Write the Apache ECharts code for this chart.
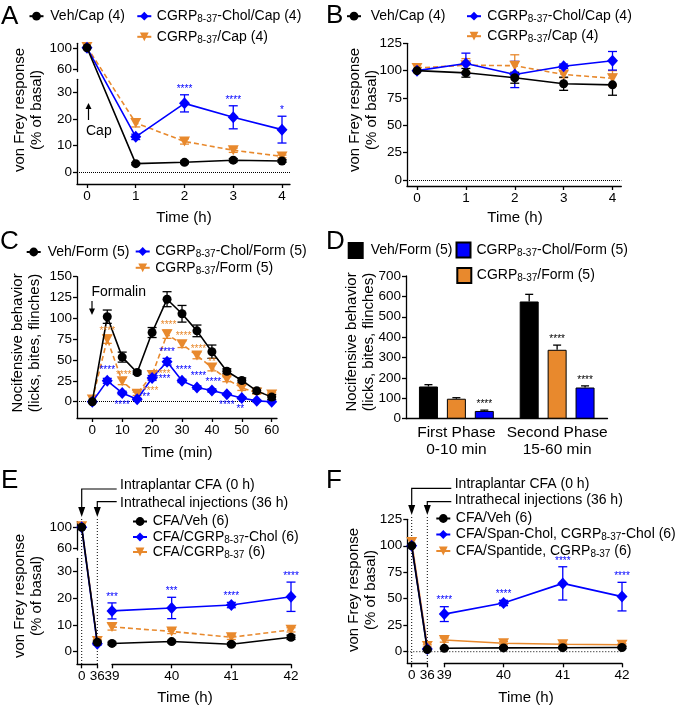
<!DOCTYPE html>
<html><head><meta charset="utf-8">
<script src="https://cdn.jsdelivr.net/npm/echarts@6/dist/echarts.min.js"></script>
<style>html,body{margin:0;padding:0;background:#fff}#c{width:677px;height:708px}</style>
</head><body><div id="c"></div>
<script>
// ================= DATA =================
// Panel A
const A_time = [0, 1, 2, 3, 4];
const A_veh = [100, 3.3, 3.8, 4.6, 4.3];
const A_vehErr = [0, 0.4, 0.5, 0.6, 0.5];
const A_chol = [100, 13.3, 25.8, 20.6, 16.0];
const A_cholErr = [0, 1.0, 3.2, 4.3, 5.0];
const A_cgrp = [101.5, 18.5, 11.6, 8.3, 6.0];
const A_cgrpErr = [0, 1.5, 1.0, 0.8, 0.5];
const A_cholStars = ['', '', '****', '****', '*'];
const A_xTicks = [0, 1, 2, 3, 4];
const A_yTicksHi = [60, 100];
const A_yTicksLo = [0, 10, 20, 30];
// Panel B
const B_time = [0, 1, 2, 3, 4];
const B_veh = [100, 98, 93.5, 88, 87];
const B_vehErr = [0, 4, 5, 6, 9.5];
const B_chol = [100, 106.5, 96.5, 104, 109];
const B_cholErr = [0, 9.5, 12, 2, 8.5];
const B_cgrp = [102.5, 105, 104.5, 96.5, 93];
const B_cgrpErr = [0, 6, 10, 3, 7];
const B_xTicks = [0, 1, 2, 3, 4];
const B_yTicks = [0, 25, 50, 75, 100, 125];
// Panel C
const C_time = [0, 5, 10, 15, 20, 25, 30, 35, 40, 45, 50, 55, 60];
const C_veh = [0, 102, 53.5, 35, 83, 123, 105.5, 85, 60, 36.5, 25.5, 13, 5.5];
const C_vehErr = [0, 8, 6, 2, 6, 9, 10, 7, 8, 3, 3, 3, 3];
const C_chol = [0, 25, 10.5, 3, 28.5, 48, 25, 17, 13.5, 9, 4.5, 1, 0];
const C_cholErr = [0, 3, 2, 1, 3, 4, 2, 2, 2, 1, 1, 1, 0];
const C_cgrp = [2.5, 75, 24.5, 9.5, 32, 81, 69, 55.5, 41, 27, 16.5, 11, 8.5];
const C_cgrpErr = [0, 5, 4, 2, 5, 5, 4, 4, 4, 3, 3, 2, 2];
const C_cholStarX = [5, 10, 18, 23.5, 25, 30.5, 35.5, 40.5, 45, 49.5];
const C_cholStarY = [38, -4.5, 5.5, 27, 59, 38, 31, 23, -4.5, -9];
const C_cholStarTxt = ['****', '****', '**', '****', '****', '****', '****', '****', '****', '**'];
const C_cgrpStarX = [5, 10.5, 19.5, 23.5, 25.5, 30.5, 35.5, 40];
const C_cgrpStarY = [84, 32, 12, 33, 92, 78, 63, 47];
const C_cgrpStarTxt = ['****', '****', '****', '****', '****', '****', '****', '**'];
const C_xTicks = [0, 10, 20, 30, 40, 50, 60];
const C_yTicks = [0, 25, 50, 75, 100, 125, 150];
// Panel D
const D_phases = ['First Phase\n0-10 min', 'Second Phase\n15-60 min'];
const D_veh = [158, 575];
const D_vehErr = [9, 35];
const D_cgrp = [98, 338];
const D_cgrpErr = [5, 23];
const D_chol = [38, 153];
const D_cholErr = [4, 8];
const D_cgrpStars = ['', '****'];
const D_cholStars = ['****', '****'];
const D_yTicks = [0, 100, 200, 300, 400, 500, 600, 700];
// Panel E
const E_time = [0, 36, 39, 40, 41, 42];
const E_veh = [100, 3.5, 3.1, 3.8, 2.8, 5.4];
const E_vehErr = [0, 0.5, 0.5, 0.5, 0.5, 0.8];
const E_chol = [100, 3.0, 15.3, 16.4, 17.5, 20.6];
const E_cholErr = [0, 0.5, 3, 4, 1, 5.5];
const E_cgrp = [102, 4.0, 9.3, 7.6, 5.4, 8.2];
const E_cgrpErr = [0, 0.5, 1.2, 0.8, 0.8, 0.8];
const E_cholStars = ['', '', '***', '***', '****', '****'];
const E_xTicksPre = [0, 36];
const E_xTicksPost = [39, 40, 41, 42];
const E_yTicksHi = [60, 100];
const E_yTicksLo = [0, 10, 20, 30];
// Panel F
const F_time = [0, 36, 39, 40, 41, 42];
const F_veh = [100, 2.0, 3.2, 3.6, 3.8, 4.0];
const F_vehErr = [0, 0.5, 0.8, 1, 1, 1];
const F_chol = [100, 2.5, 35.5, 46, 64.5, 52];
const F_cholErr = [0, 0.5, 7, 2.5, 15.7, 13.5];
const F_cgrp = [103.5, 5.5, 11, 8, 7, 6.5];
const F_cgrpErr = [0, 1, 2, 1.5, 1, 1];
const F_cholStars = ['', '', '****', '****', '****', '****'];
const F_xTicksPre = [0, 36];
const F_xTicksPost = [39, 40, 41, 42];
const F_yTicks = [0, 25, 50, 75, 100, 125];

const PRE = [0, 1], POST = [2, 3, 4, 5];

// ================= STYLE / LAYOUT =================
const FONT = '"Liberation Sans", Arial, Helvetica, sans-serif';
const BLACK = '#000000', BLUE = '#0000FF', ORANGE = '#E8892D';
const TICK_FS = 13.5;
const STAR_FONT = '10px ' + FONT;

const GEO = {
  Ahi:   {l: 77, t: 43.3, w: 213, h: 28.2, x: [-0.205, 4.164], y: [56.3, 108.3]},
  Alo:   {l: 77, t: 79.3, w: 213, h: 104.7, x: [-0.205, 4.164], y: [-4.29, 34.78]},
  B:     {l: 407, t: 43.3, w: 214.3, h: 142.7, x: [-0.205, 4.18], y: [-5.49, 125]},
  C:     {l: 77, t: 276.7, w: 200, h: 141.3, x: [-5.12, 61.77], y: [-19.56, 150]},
  D:     {l: 406, t: 276, w: 201.5, h: 142.7, y: [0, 700]},
  Ehi:   {l: 77, t: 521.7, w: 20.3, h: 28.3, x: [-10.85, 36], y: [56.76, 110.67]},
  EloL:  {l: 77, t: 558.3, w: 20.3, h: 106, x: [-10.85, 36], y: [-4.72, 35.02]},
  Emain: {l: 112, t: 558.3, w: 179, h: 106, x: [39, 42], y: [-4.72, 35.02]},
  FL:    {l: 407.3, t: 519.3, w: 20, h: 144, x: [-10.15, 36], y: [-10.95, 125]},
  Fmain: {l: 444.3, t: 519.3, w: 177.7, h: 144, x: [39, 42], y: [-10.95, 125]}
};
const KEYS = Object.keys(GEO);
const GI = k => KEYS.indexOf(k);

const ySeg = g => ({v0: g.y[0], p0: g.t + g.h, v1: g.y[1], p1: g.t});
const xSeg = g => ({v0: g.x[0], p0: g.l, v1: g.x[1], p1: g.l + g.w});
const toPix = (v, s) => s.p0 + (v - s.v0) * (s.p1 - s.p0) / (s.v1 - s.v0);
const fromPix = (p, s) => s.v0 + (p - s.p0) * (s.v1 - s.v0) / (s.p1 - s.p0);
const id = v => v;
// broken-axis transform (upper segment value -> lower segment coordinate system)
const tyA = v => v > 45 ? fromPix(toPix(v, ySeg(GEO.Ahi)), ySeg(GEO.Alo)) : v;
const tyE = v => v > 45 ? fromPix(toPix(v, ySeg(GEO.Ehi)), ySeg(GEO.EloL)) : v;

const LINE_C = {color: '#000', width: 1.3};
function valAxis(gi, range, ticks) {
  return {
    gridIndex: gi, type: 'value', min: range[0], max: range[1],
    axisLine: {show: true, onZero: false, lineStyle: LINE_C},
    splitLine: {show: false},
    axisTick: {show: true, length: 4, customValues: ticks, lineStyle: LINE_C},
    axisLabel: {show: true, customValues: ticks, color: '#000', fontSize: TICK_FS, fontFamily: FONT, margin: 5}
  };
}
function hidAxis(gi, range) {
  return {gridIndex: gi, type: 'value', min: range[0], max: range[1], show: false,
    axisLine: {onZero: false}, splitLine: {show: false}};
}

const STY = {
  black: {color: BLACK, symbol: 'circle', size: 9, z: 6},
  blue: {color: BLUE, symbol: 'diamond', size: [11, 12], z: 5},
  orange: {color: ORANGE, symbol: 'triangle', size: [11, 10], rot: 180, z: 4, dash: [5, 3]},
  orangeSolid: {color: ORANGE, symbol: 'triangle', size: [11, 10], rot: 180, z: 4}
};
const sub = (arr, idx) => idx.map(i => arr[i]);
const pts = (xs, ys, tx, ty) => xs.map((x, i) => [tx(x), ty(ys[i])]);

function lineS(name, gi, data, sty, extra) {
  return Object.assign({
    name, type: 'line', xAxisIndex: gi, yAxisIndex: gi, data, clip: false, animation: false,
    symbol: sty.symbol, symbolSize: sty.size, symbolRotate: sty.rot || 0, z: sty.z,
    showAllSymbol: true,
    itemStyle: {color: sty.color, opacity: 1},
    lineStyle: {color: sty.color, width: 1.6, type: sty.dash || 'solid'},
    emphasis: {disabled: true}
  }, extra || {});
}
function errS(gi, xs, ys, es, tx, ty, color, opt) {
  opt = opt || {};
  const data = xs.map((x, i) => [tx(x), ty(ys[i]), ty(ys[i] - (opt.up ? 0 : es[i])), ty(ys[i] + es[i])]);
  return {
    type: 'custom', xAxisIndex: gi, yAxisIndex: gi, data, z: opt.z || 3, silent: true,
    animation: false, clip: false, encode: {x: 0, y: 1},
    renderItem(params, api) {
      const i = params.dataIndex;
      const x = api.value(0);
      const pT = api.coord([x, api.value(3)]);
      const pB = api.coord([x, api.value(2)]);
      const cx = pT[0] + (opt.off || 0), cw = (opt.cap || 9) / 2;
      const ls = {stroke: color, lineWidth: 1.3};
      const ch = [];
      const k = (opt.idx ? opt.idx[i] : i);
      if (es[k] > 0) {
        ch.push({type: 'line', shape: {x1: cx, y1: pT[1], x2: cx, y2: pB[1]}, style: ls});
        ch.push({type: 'line', shape: {x1: cx - cw, y1: pT[1], x2: cx + cw, y2: pT[1]}, style: ls});
        if (!opt.up) ch.push({type: 'line', shape: {x1: cx - cw, y1: pB[1], x2: cx + cw, y2: pB[1]}, style: ls});
      }
      if (opt.stars && opt.stars[k]) {
        ch.push({type: 'text', z2: 10, style: {text: opt.stars[k], x: cx, y: pT[1] - 1,
          textAlign: 'center', textVerticalAlign: 'bottom', align: 'center', verticalAlign: 'bottom',
          fill: opt.starColor || color, font: STAR_FONT}});
      }
      return {type: 'group', children: ch};
    }
  };
}
function starS(gi, xs, ys, txt, color) {
  return {
    type: 'custom', xAxisIndex: gi, yAxisIndex: gi, data: xs.map((x, i) => [x, ys[i]]),
    silent: true, clip: false, z: 7, animation: false, encode: {x: 0, y: 1},
    renderItem(params, api) {
      const p = api.coord([api.value(0), api.value(1)]);
      return {type: 'text', style: {text: txt[params.dataIndex], x: p[0], y: p[1],
        textAlign: 'center', textVerticalAlign: 'middle', align: 'center', verticalAlign: 'middle',
        fill: color, font: STAR_FONT}};
    }
  };
}
const DOT = {type: 'dotted', color: '#000', width: 1};
function mark(data) {
  return {silent: true, symbol: ['none', 'none'], animation: false, label: {show: false},
    lineStyle: DOT, emphasis: {disabled: true}, data};
}

// ================= SERIES =================
const series = [];
// A
{
  const g = GI('Alo');
  series.push(lineS('A3', g, pts(A_time, A_cgrp, id, tyA), STY.orange));
  series.push(lineS('A2', g, pts(A_time, A_chol, id, tyA), STY.blue));
  series.push(lineS('A1', g, pts(A_time, A_veh, id, tyA), STY.black, {markLine: mark([{yAxis: 0}])}));
  series.push(errS(g, A_time, A_cgrp, A_cgrpErr, id, tyA, ORANGE));
  series.push(errS(g, A_time, A_chol, A_cholErr, id, tyA, BLUE, {stars: A_cholStars}));
  series.push(errS(g, A_time, A_veh, A_vehErr, id, tyA, BLACK));
}
// B
{
  const g = GI('B');
  series.push(lineS('B3', g, pts(B_time, B_cgrp, id, id), STY.orange));
  series.push(lineS('B2', g, pts(B_time, B_chol, id, id), STY.blue));
  series.push(lineS('B1', g, pts(B_time, B_veh, id, id), STY.black, {markLine: mark([{yAxis: 0}])}));
  series.push(errS(g, B_time, B_cgrp, B_cgrpErr, id, id, ORANGE));
  series.push(errS(g, B_time, B_chol, B_cholErr, id, id, BLUE));
  series.push(errS(g, B_time, B_veh, B_vehErr, id, id, BLACK));
}
// C
{
  const g = GI('C');
  series.push(lineS('C3', g, pts(C_time, C_cgrp, id, id), STY.orange));
  series.push(lineS('C2', g, pts(C_time, C_chol, id, id), STY.blue));
  series.push(lineS('C1', g, pts(C_time, C_veh, id, id), STY.black, {markLine: mark([{yAxis: 0}])}));
  series.push(errS(g, C_time, C_cgrp, C_cgrpErr, id, id, ORANGE));
  series.push(errS(g, C_time, C_chol, C_cholErr, id, id, BLUE));
  series.push(errS(g, C_time, C_veh, C_vehErr, id, id, BLACK));
  series.push(starS(g, C_cholStarX, C_cholStarY, C_cholStarTxt, BLUE));
  series.push(starS(g, C_cgrpStarX, C_cgrpStarY, C_cgrpStarTxt, ORANGE));
}
// D
{
  const g = GI('D');
  const bar = (name, vals, color) => ({name, type: 'bar', xAxisIndex: g, yAxisIndex: g, data: vals,
    barWidth: 19, barGap: '47%', animation: false, z: 2,
    itemStyle: {color, borderColor: '#000', borderWidth: 1}, emphasis: {disabled: true}});
  series.push(bar('D1', D_veh, BLACK));
  series.push(bar('D3', D_cgrp, ORANGE));
  series.push(bar('D2', D_chol, BLUE));
  const idx = D_phases.map((_, i) => i);
  const off = 19 * 1.47;
  series.push(errS(g, idx, D_veh, D_vehErr, id, id, BLACK, {up: true, off: -off, cap: 8}));
  series.push(errS(g, idx, D_cgrp, D_cgrpErr, id, id, BLACK, {up: true, off: 0, cap: 8, stars: D_cgrpStars}));
  series.push(errS(g, idx, D_chol, D_cholErr, id, id, BLACK, {up: true, off: off, cap: 8, stars: D_cholStars}));
}
// E : pre-injection points (0, 36 h) on the left x segment, post-injection on the main segment
{
  const gL = GI('EloL'), gM = GI('Emain');
  const grp = (nm, vals, errs, sty, starArr) => {
    series.push(lineS(nm, gM, pts(sub(E_time, POST), sub(vals, POST), id, tyE), sty));
    series.push(lineS(nm + 'pre', gL, pts(sub(E_time, PRE), sub(vals, PRE), id, tyE), sty));
    series.push(errS(gM, sub(E_time, POST), sub(vals, POST), sub(errs, POST), id, tyE, sty.color, {stars: starArr ? sub(starArr, POST) : null}));
    series.push(errS(gL, sub(E_time, PRE), sub(vals, PRE), sub(errs, PRE), id, tyE, sty.color));
  };
  grp('E3', E_cgrp, E_cgrpErr, STY.orange);
  grp('E2', E_chol, E_cholErr, STY.blue, E_cholStars);
  grp('E1', E_veh, E_vehErr, STY.black);
}
// F
{
  const gL = GI('FL'), gM = GI('Fmain');
  const grp = (nm, vals, errs, sty, starArr) => {
    series.push(lineS(nm, gM, pts(sub(F_time, POST), sub(vals, POST), id, id), sty));
    series.push(lineS(nm + 'pre', gL, pts(sub(F_time, PRE), sub(vals, PRE), id, id), sty));
    series.push(errS(gM, sub(F_time, POST), sub(vals, POST), sub(errs, POST), id, id, sty.color, {stars: starArr ? sub(starArr, POST) : null}));
    series.push(errS(gL, sub(F_time, PRE), sub(vals, PRE), sub(errs, PRE), id, id, sty.color));
  };
  grp('F3', F_cgrp, F_cgrpErr, STY.orangeSolid);
  grp('F2', F_chol, F_cholErr, STY.blue, F_cholStars);
  grp('F1', F_veh, F_vehErr, STY.black);
}

// ================= AXES =================
const xAxis = [
  hidAxis(GI('Ahi'), GEO.Ahi.x),
  valAxis(GI('Alo'), GEO.Alo.x, A_xTicks),
  valAxis(GI('B'), GEO.B.x, B_xTicks),
  valAxis(GI('C'), GEO.C.x, C_xTicks),
  {gridIndex: GI('D'), type: 'category', data: D_phases,
    axisLine: {show: true, lineStyle: LINE_C}, axisTick: {show: false},
    axisLabel: {color: '#000', fontSize: 15.5, fontFamily: FONT, lineHeight: 17, margin: 6, interval: 0, hideOverlap: false}},
  hidAxis(GI('Ehi'), GEO.Ehi.x),
  valAxis(GI('EloL'), GEO.EloL.x, E_xTicksPre),
  valAxis(GI('Emain'), GEO.Emain.x, E_xTicksPost),
  valAxis(GI('FL'), GEO.FL.x, F_xTicksPre),
  valAxis(GI('Fmain'), GEO.Fmain.x, F_xTicksPost)
];
const yAxis = [
  valAxis(GI('Ahi'), GEO.Ahi.y, A_yTicksHi),
  valAxis(GI('Alo'), GEO.Alo.y, A_yTicksLo),
  valAxis(GI('B'), GEO.B.y, B_yTicks),
  valAxis(GI('C'), GEO.C.y, C_yTicks),
  valAxis(GI('D'), GEO.D.y, D_yTicks),
  valAxis(GI('Ehi'), GEO.Ehi.y, E_yTicksHi),
  valAxis(GI('EloL'), GEO.EloL.y, E_yTicksLo),
  hidAxis(GI('Emain'), GEO.Emain.y),
  valAxis(GI('FL'), GEO.FL.y, F_yTicks),
  hidAxis(GI('Fmain'), GEO.Fmain.y)
];

// ================= LEGENDS =================
const LABEL = {
  A1: 'Veh/Cap (4)', A2: 'CGRP{s|8-37}-Chol/Cap (4)', A3: 'CGRP{s|8-37}/Cap (4)',
  B1: 'Veh/Cap (4)', B2: 'CGRP{s|8-37}-Chol/Cap (4)', B3: 'CGRP{s|8-37}/Cap (4)',
  C1: 'Veh/Form (5)', C2: 'CGRP{s|8-37}-Chol/Form (5)', C3: 'CGRP{s|8-37}/Form (5)',
  D1: 'Veh/Form (5)', D2: 'CGRP{s|8-37}-Chol/Form (5)', D3: 'CGRP{s|8-37}/Form (5)',
  E1: 'CFA/Veh (6)', E2: 'CFA/CGRP{s|8-37}-Chol (6)', E3: 'CFA/CGRP{s|8-37} (6)',
  F1: 'CFA/Veh (6)', F2: 'CFA/Span-Chol, CGRP{s|8-37}-Chol (6)', F3: 'CFA/Spantide, CGRP{s|8-37} (6)'
};
function leg(name, iconCx, textX, cy, isBar) {
  const iw = isBar ? 14 : 14, ih = isBar ? 15 : 11;
  const pad = Math.max(0.5, textX - (iconCx + iw / 2) - 5);
  return {
    data: [name], left: iconCx - iw / 2, top: cy - 8.5, padding: 0, itemGap: 0,
    itemWidth: iw, itemHeight: ih, selectedMode: false, icon: isBar ? 'rect' : undefined,
    lineStyle: {type: 'solid'},
    formatter: n => '{g| }' + LABEL[n],
    textStyle: {fontSize: 14, fontFamily: FONT, color: '#000', lineHeight: 16,
      rich: {
        g: {width: pad, fontSize: 14, lineHeight: 16},
        s: {fontSize: 10, fontFamily: FONT, color: '#000', lineHeight: 11, padding: [6, 0, 0, 0]}
      }}
  };
}
const legend = [
  leg('A1', 35.5, 49.3, 16.7), leg('A2', 143.3, 155, 16.7), leg('A3', 143.3, 155, 37.3),
  leg('B1', 353, 369.7, 16.7), leg('B2', 473, 486.3, 16.7), leg('B3', 473, 486.3, 36.7),
  leg('C1', 32.7, 46.7, 252.5), leg('C2', 141.7, 154, 252), leg('C3', 141.7, 154, 268.3),
  leg('D1', 354.7, 369.7, 250.5, true), leg('D2', 462.5, 475.5, 250, true), leg('D3', 463.3, 475.5, 275.5, true),
  leg('E1', 139, 151.7, 522), leg('E2', 139, 151.7, 537.5), leg('E3', 139, 151.7, 552.5),
  leg('F1', 442.3, 454, 519), leg('F2', 442.3, 454, 535), leg('F3', 442.3, 454, 551.5)
];

// ================= GRAPHIC (letters, titles, annotations) =================
function txt(text, x, y, size, align, extra) {
  return Object.assign({type: 'text', x, y, silent: true, style: {text, font: size + 'px ' + FONT, fill: '#000',
    textAlign: align || 'left', align: align || 'left', textVerticalAlign: 'middle', verticalAlign: 'middle', lineHeight: 17}}, extra || {});
}
const rot = (text, x, y) => txt(text, x, y, 15, 'center', {rotation: Math.PI / 2});
const pl = pts2 => ({type: 'polyline', silent: true, shape: {points: pts2}, style: {stroke: '#000', lineWidth: 1.2, fill: null}});
const dl = pts2 => ({type: 'polyline', silent: true, shape: {points: pts2}, style: {stroke: '#000', lineWidth: 1, lineDash: [1, 2], fill: null}});
const headDown = (x, tip) => ({type: 'polygon', silent: true, shape: {points: [[x - 3.5, tip - 10], [x + 3.5, tip - 10], [x, tip]]}, style: {fill: '#000'}});
const xE0 = toPix(E_time[0], xSeg(GEO.EloL)), xE36 = toPix(E_time[1], xSeg(GEO.EloL));
const xF0 = toPix(F_time[0], xSeg(GEO.FL)), xF36 = toPix(F_time[1], xSeg(GEO.FL));
const yEb = GEO.EloL.t + GEO.EloL.h, yFb = GEO.FL.t + GEO.FL.h;
const yF0 = toPix(0, ySeg(GEO.FL));
const graphic = [
  txt('A', 1, 16.8, 26), txt('B', 326, 16.3, 26), txt('C', 0, 242, 26),
  txt('D', 326, 242, 26), txt('E', 1, 480.5, 26), txt('F', 326, 480.5, 26),
  rot('von Frey response\n(% of basal)', 28.5, 110),
  rot('von Frey response\n(% of basal)', 363, 110),
  rot('Nocifensive behavior\n(licks, bites, flinches)', 26.5, 343),
  rot('Nocifensive behavior\n(licks, bites, flinches)', 360, 342),
  rot('von Frey response\n(% of basal)', 28.5, 596),
  rot('von Frey response\n(% of basal)', 362, 590),
  txt('Time (h)', 184, 218, 15, 'center'), txt('Time (h)', 515, 218, 15, 'center'),
  txt('Time (min)', 177, 453, 15, 'center'),
  txt('Time (h)', 185, 698, 15, 'center'), txt('Time (h)', 526, 698, 15, 'center'),
  // Cap arrow
  pl([[88.5, 120], [88.5, 108]]),
  {type: 'polygon', silent: true, shape: {points: [[85.5, 109], [91.5, 109], [88.5, 103]]}, style: {fill: '#000'}},
  txt('Cap', 86, 131.5, 14),
  // Formalin arrow
  pl([[92, 301], [92, 309]]),
  {type: 'polygon', silent: true, shape: {points: [[89, 308.5], [95, 308.5], [92, 315]]}, style: {fill: '#000'}},
  txt('Formalin', 91.5, 292.3, 14),
  // E brackets and dotted guides
  pl([[116.7, 489], [xE0, 489], [xE0, 508]]), headDown(xE0, 517),
  pl([[116.7, 501.7], [xE36, 501.7], [xE36, 508]]), headDown(xE36, 517),
  dl([[xE0, 519], [xE0, yEb]]), dl([[xE36, 519], [xE36, yEb]]),
  txt('Intraplantar CFA (0 h)', 120, 485, 14), txt('Intrathecal injections (36 h)', 120, 503.3, 14),
  // F brackets and dotted guides
  pl([[451.3, 488.3], [xF0, 488.3], [xF0, 506]]), headDown(xF0, 515),
  pl([[451.3, 501.7], [xF36, 501.7], [xF36, 506]]), headDown(xF36, 515),
  dl([[xF0, 517], [xF0, yFb]]), dl([[xF36, 517], [xF36, yFb]]),
  dl([[GEO.FL.l, yF0], [GEO.Fmain.l + GEO.Fmain.w, yF0]]),
  txt('Intraplantar CFA (0 h)', 454.7, 484.5, 14), txt('Intrathecal injections (36 h)', 454.7, 500.5, 14)
];

const option = {
  animation: false,
  backgroundColor: '#fff',
  textStyle: {fontFamily: FONT},
  grid: KEYS.map(k => ({left: GEO[k].l, top: GEO[k].t, width: GEO[k].w, height: GEO[k].h,
    containLabel: false, outerBoundsMode: 'none', show: false})),
  xAxis, yAxis, legend, series,
  graphic: {elements: graphic}
};
const chart = echarts.init(document.getElementById('c'), null, {renderer: 'canvas'});
chart.setOption(option);
</script></body></html>
